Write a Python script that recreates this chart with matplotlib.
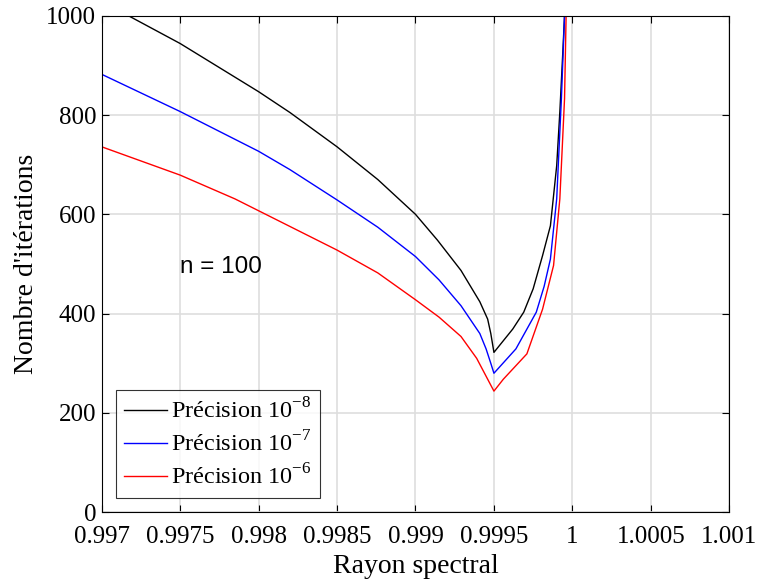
import matplotlib.pyplot as plt

# Données (rayon spectral, nombre d'itérations)
x_e8 = [0.99700, 0.99717, 0.99750, 0.99800, 0.99820, 0.99850, 0.99876, 0.99900,
        0.99914, 0.99929, 0.99941, 0.99946, 0.99948, 0.99950, 0.99962, 0.99969,
        0.99975, 0.99981, 0.99986, 0.99990, 0.99992, 0.99994, 0.99995, 0.99996]
y_e8 = [1030, 1000, 944, 847, 805, 736, 670, 600,
        548, 487, 424, 389, 360, 322, 369, 403,
        450, 517, 577, 698, 806, 933, 1000, 1100]

x_e7 = [0.99700, 0.99750, 0.99800, 0.99820, 0.99850, 0.99876, 0.99900, 0.99915,
        0.99929, 0.99941, 0.99945, 0.99948, 0.99950, 0.99964, 0.99977, 0.99982,
        0.99986, 0.99990, 0.99993, 0.99995, 0.99996]
y_e7 = [882, 807, 727, 690, 629, 574, 515, 468,
        416, 360, 329, 300, 280, 329, 403, 455,
        510, 631, 833, 1000, 1100]

x_e6 = [0.99700, 0.99750, 0.99785, 0.99850, 0.99876, 0.99900, 0.99915, 0.99929,
        0.99939, 0.99946, 0.99949, 0.99950, 0.99956, 0.99971, 0.99981, 0.99988,
        0.99992, 0.99995, 0.99996, 0.99997]
y_e6 = [736, 679, 631, 528, 482, 428, 393, 354,
        310, 268, 250, 244, 268, 319, 409, 497,
        631, 833, 1000, 1100]

x_ticks = [0.997, 0.9975, 0.998, 0.9985, 0.999, 0.9995, 1.0, 1.0005, 1.001]
x_tick_labels = ["0.997", "0.9975", "0.998", "0.9985", "0.999", "0.9995", "1", "1.0005", "1.001"]
y_ticks = [0, 200, 400, 600, 800, 1000]

plt.rcParams["font.family"] = ["Liberation Serif", "DejaVu Serif"]
plt.rcParams["mathtext.fontset"] = "custom"
plt.rcParams["mathtext.rm"] = "Liberation Serif"

fig = plt.figure(figsize=(7.57, 5.83), dpi=100)
ax = fig.add_axes([0.1343, 0.1213, 0.8291, 0.8518])

ax.plot(x_e8, y_e8, color="black", lw=1.0, label=r"Précision 10$^{-8}$")
ax.plot(x_e7, y_e7, color="blue", lw=1.0, label=r"Précision 10$^{-7}$")
ax.plot(x_e6, y_e6, color="red", lw=1.0, label=r"Précision 10$^{-6}$")

ax.set_xlim(0.997, 1.001)
ax.set_ylim(0, 1000)
ax.set_xticks(x_ticks)
ax.set_xticklabels(x_tick_labels)
ax.set_yticks(y_ticks)
ax.tick_params(direction="in", labelsize=18, length=5, width=0.8,
               top=True, right=True)
ax.tick_params(axis="x", pad=10)
ax.tick_params(axis="y", pad=4)
ax.grid(True, color="#dedede", lw=1.2)
ax.set_axisbelow(True)
for s in ax.spines.values():
    s.set_linewidth(0.8)

ax.set_xlabel("Rayon spectral", fontsize=20, labelpad=4)
ax.set_ylabel("Nombre d'itérations", fontsize=20, labelpad=5)

ax.text(0.99776, 494, "n = 100", fontsize=17.5, family="Liberation Sans",
        ha="center", va="center")

leg = ax.legend(loc="lower left", fontsize=17.5, frameon=True, fancybox=False,
                edgecolor="black", handlelength=1.75, borderaxespad=0.57,
                labelspacing=0.32, handletextpad=0.2, borderpad=0.35)
leg.get_frame().set_linewidth(0.8)

plt.savefig("out.png", dpi=100)
plt.close()
